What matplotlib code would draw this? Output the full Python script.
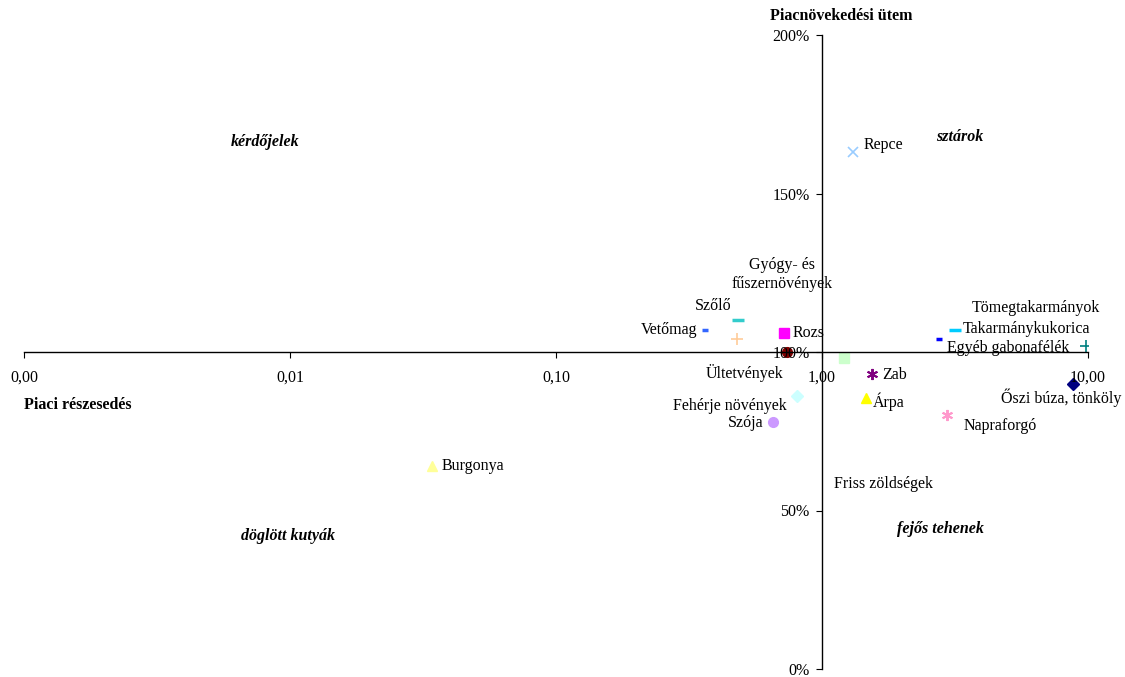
import matplotlib
matplotlib.use("Agg")
import matplotlib.pyplot as plt
from matplotlib.ticker import FixedLocator, FixedFormatter, NullLocator

# BCG matrix data: relative market share (log) vs market growth (%)
products = ["Repce", "Vetőmag", "Szőlő", "Gyógy- és\nfűszernövények", "Rozs",
            "Ültetvények", "Fehérje növények", "Szója", "Friss zöldségek",
            "Zab", "Árpa", "Napraforgó", "Őszi búza, tönköly",
            "Egyéb gabonafélék", "Takarmánykukorica", "Tömegtakarmányok",
            "Burgonya"]
share = [1.31, 0.363, 0.483, 0.479, 0.72, 0.738, 0.805, 0.655, 1.21,
         1.54, 1.46, 2.95, 8.79, 2.75, 3.16, 9.8, 0.0342]
growth = [163, 107, 110, 104, 106, 100, 86, 78, 98,
          93, 85.5, 80, 90, 104, 107, 102, 64]

x_ticks = [0.001, 0.01, 0.1, 1, 10]
x_tick_labels = ["0,00", "0,01", "0,10", "1,00", "10,00"]
y_ticks = [0, 50, 100, 150, 200]
y_tick_labels = ["0%", "50%", "100%", "150%", "200%"]

# marker styles (marker, color, size, edge width)
styles = [
    ("x", "#99ccff", 7, 1.2),
    ("_", "#3366ff", 5, 2.5),
    ("_", "#33cccc", 9, 2.5),
    ("+", "#ffcc99", 8, 1.2),
    ("s", "#ff00ff", 7, 0),
    ("o", "#800000", 7, 0),
    ("D", "#ccffff", 6, 0),
    ("o", "#cc99ff", 7, 0),
    ("s", "#ccffcc", 7, 0),
    ((6, 2, 0), "#800080", 8, 1.4),
    ("^", "#ffff00", 7, 0),
    ((6, 2, 0), "#ff99cc", 8, 1.4),
    ("D", "#000080", 6, 0),
    ("_", "#0000ff", 5, 2.5),
    ("_", "#00ccff", 9, 2.5),
    ("+", "#008080", 8, 1.2),
    ("^", "#ffff99", 7, 0),
]

# label offsets in pixels (dx, dy) and horizontal alignment
label_pos = [
    (10, 7, "left"), (-8, 0, "right"), (-25, 14, "center"),
    (45, 65, "center"), (9, 0, "left"), (-42, -21, "center"),
    (-67, -10, "center"), (-10, -1, "right"), (39, -126, "center"),
    (10, -1, "left"), (7, -4, "left"), (17, -11, "left"),
    (-12, -14, "center"), (8, -9, "left"), (8, 1, "left"),
    (-50, 38, "center"), (10, 0, "left"),
]

FS = 11.5
plt.rcParams["font.family"] = ["Liberation Serif", "DejaVu Serif"]

fig = plt.figure(figsize=(11.25, 6.77), dpi=100)
ax = fig.add_axes([24 / 1125, 8 / 677, 1064 / 1125, 634 / 677])
ax.set_xscale("log")
ax.set_xlim(0.001, 10)
ax.set_ylim(0, 200)

for name, x, y, (m, c, s, mew), (dx, dy, ha) in zip(products, share, growth, styles, label_pos):
    if mew == 0:
        ax.plot(x, y, marker=m, color=c, markersize=s, linestyle="none", zorder=1.5)
    else:
        ax.plot(x, y, marker=m, color=c, markersize=s, markeredgewidth=mew,
                linestyle="none", zorder=1.5)
    ax.annotate(name, (x, y), xytext=(dx * 0.72, dy * 0.72), textcoords="offset points",
                ha=ha, va="center", fontsize=FS, linespacing=1.2)

# axes crossing in the middle
ax.spines["left"].set_position(("data", 1))
ax.spines["bottom"].set_position(("data", 100))
ax.spines["top"].set_visible(False)
ax.spines["right"].set_visible(False)
for sp in ("left", "bottom"):
    ax.spines[sp].set_linewidth(1)

ax.xaxis.set_major_locator(FixedLocator(x_ticks))
ax.xaxis.set_major_formatter(FixedFormatter(x_tick_labels))
ax.xaxis.set_minor_locator(NullLocator())
ax.yaxis.set_major_locator(FixedLocator(y_ticks))
ax.yaxis.set_major_formatter(FixedFormatter(y_tick_labels))
ax.tick_params(axis="x", direction="out", length=4, pad=9, labelsize=FS)
ax.tick_params(axis="y", direction="out", length=4, pad=5, labelsize=FS)
ax.patch.set_visible(False)

# axis titles
fig.text(841 / 1125, 1 - 16 / 677, "Piacnövekedési ütem", ha="center", va="center",
         fontsize=FS, fontweight="bold")
fig.text(78 / 1125, 1 - 405 / 677, "Piaci részesedés", ha="center", va="center",
         fontsize=FS, fontweight="bold")

# quadrant names
quads = [("kérdőjelek", 265, 142), ("sztárok", 960, 137),
         ("döglött kutyák", 288, 536), ("fejős tehenek", 940, 529)]
for txt, px, py in quads:
    fig.text(px / 1125, 1 - py / 677, txt, ha="center", va="center",
             fontsize=FS, fontweight="bold", fontstyle="italic")

fig.savefig("out.png", dpi=100)
